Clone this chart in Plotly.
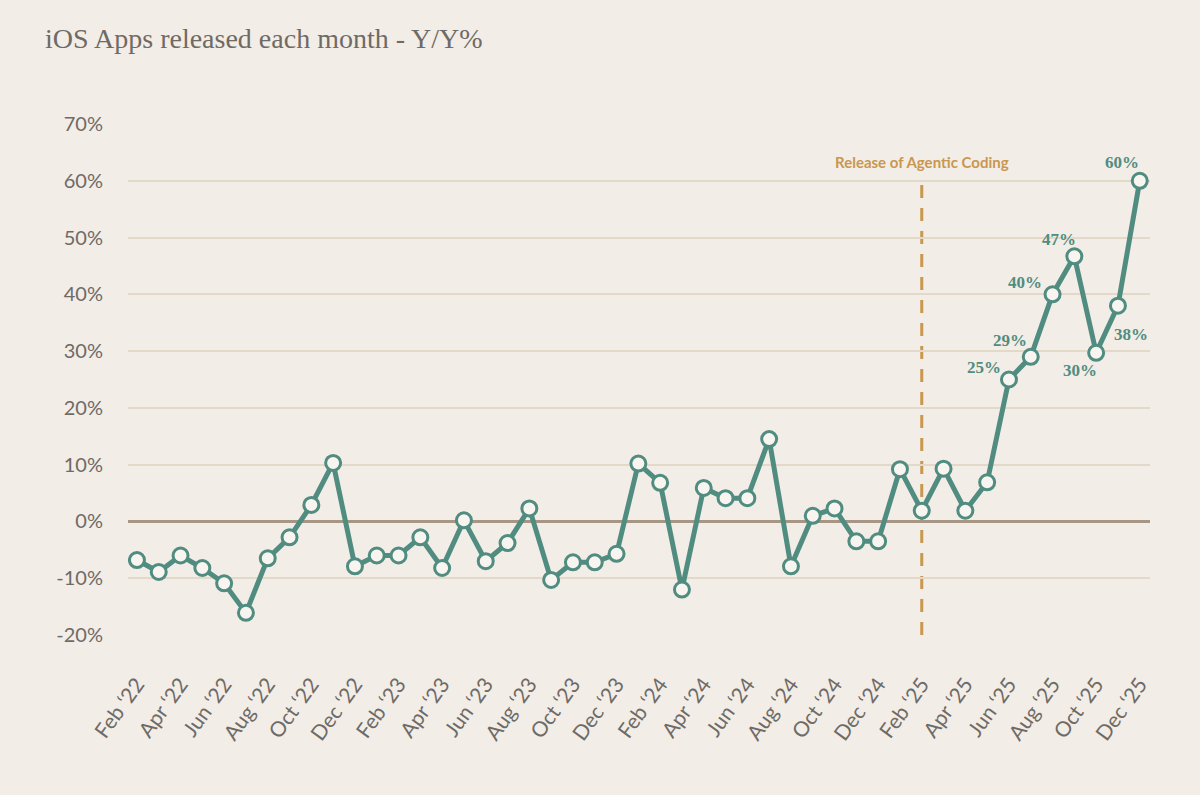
import plotly.graph_objects as go

months = [
    "Feb ‘22", "Mar ‘22", "Apr ‘22", "May ‘22", "Jun ‘22", "Jul ‘22", "Aug ‘22", "Sep ‘22", "Oct ‘22", "Nov ‘22", "Dec ‘22",
    "Jan ‘23", "Feb ‘23", "Mar ‘23", "Apr ‘23", "May ‘23", "Jun ‘23", "Jul ‘23", "Aug ‘23", "Sep ‘23", "Oct ‘23", "Nov ‘23", "Dec ‘23",
    "Jan ‘24", "Feb ‘24", "Mar ‘24", "Apr ‘24", "May ‘24", "Jun ‘24", "Jul ‘24", "Aug ‘24", "Sep ‘24", "Oct ‘24", "Nov ‘24", "Dec ‘24",
    "Jan ‘25", "Feb ‘25", "Mar ‘25", "Apr ‘25", "May ‘25", "Jun ‘25", "Jul ‘25", "Aug ‘25", "Sep ‘25", "Oct ‘25", "Nov ‘25", "Dec ‘25",
]
yoy = [
    -6.8, -8.9, -6.0, -8.2, -10.9, -16.1, -6.5, -2.8, 2.9, 10.3, -7.9,
    -6.0, -6.0, -2.8, -8.2, 0.2, -7.0, -3.8, 2.3, -10.3, -7.2, -7.2, -5.7,
    10.2, 6.8, -12.0, 5.9, 4.1, 4.1, 14.5, -7.9, 1.0, 2.3, -3.5, -3.5,
    9.2, 1.9, 9.3, 1.9, 6.9, 25.0, 29.0, 40.0, 46.7, 29.7, 38.0, 60.0,
]
tick_months = months[::2]
y_ticks = [-20, -10, 0, 10, 20, 30, 40, 50, 60, 70]
y_tick_text = [f"{v}%" for v in y_ticks]

labelled_months = ["Jun ‘25", "Jul ‘25", "Aug ‘25", "Sep ‘25", "Oct ‘25", "Nov ‘25", "Dec ‘25"]
label_shifts = [(-25, 12), (-21, 16), (-28, 12), (-15, 17), (-16, -18), (13, -29), (-18, 18)]

event_month = "Feb ‘25"
event_text = "Release of Agentic Coding"

teal = "#518C80"
gold = "#C9974F"
bg = "#F2EDE6"
grey = "#6E6A66"

fig = go.Figure()
fig.add_trace(go.Scatter(
    x=months, y=yoy, mode="lines+markers",
    line=dict(color=teal, width=5),
    marker=dict(size=15, color="#F8F5F0", line=dict(color=teal, width=3)),
    hoverinfo="x+y", showlegend=False,
))

fig.add_shape(type="line", xref="x", yref="y", x0=event_month, x1=event_month, y0=-20, y1=60,
              line=dict(color=gold, width=3, dash="13px,10px"), layer="below")
fig.add_annotation(x=event_month, y=63.3, xref="x", yref="y", text=event_text, showarrow=False,
                   font=dict(family="Lato", size=15, color=gold, weight="bold"))

for m, (dx, dy) in zip(labelled_months, label_shifts):
    v = yoy[months.index(m)]
    fig.add_annotation(x=m, y=v, xref="x", yref="y", text=f"{round(v)}%", showarrow=False,
                       xshift=dx, yshift=dy,
                       font=dict(family="Liberation Serif", size=17, color=teal, weight="bold"))

fig.update_layout(
    width=1200, height=795,
    paper_bgcolor=bg, plot_bgcolor=bg,
    margin=dict(l=128, r=50, t=124, b=160),
    title=dict(text="iOS Apps released each month - Y/Y%", x=45/1200, xanchor="left",
               y=1-38/795, yanchor="middle",
               font=dict(family="Liberation Serif", size=28, color=grey)),
    xaxis=dict(type="category", range=[-0.41, 46.47], tickmode="array",
               tickvals=tick_months, ticktext=tick_months, tickangle=-54,
               showgrid=False, zeroline=False, showline=False, ticks="",
               ticklabelstandoff=32,
               tickfont=dict(family="Lato", size=21, color=grey)),
    yaxis=dict(range=[-20, 70], tickmode="array", tickvals=y_ticks, ticktext=y_tick_text,
               showgrid=True, gridcolor="#E3D9C8", gridwidth=2,
               zeroline=True, zerolinecolor="#A89684", zerolinewidth=3,
               showline=False, ticks="", ticklabelstandoff=24,
               tickfont=dict(family="Lato", size=20, color=grey)),
)

fig.write_html(
    "out.html",
    config={"displayModeBar": False},
    post_script="document.body.style.margin='0';document.body.style.background='%s';" % bg,
)
